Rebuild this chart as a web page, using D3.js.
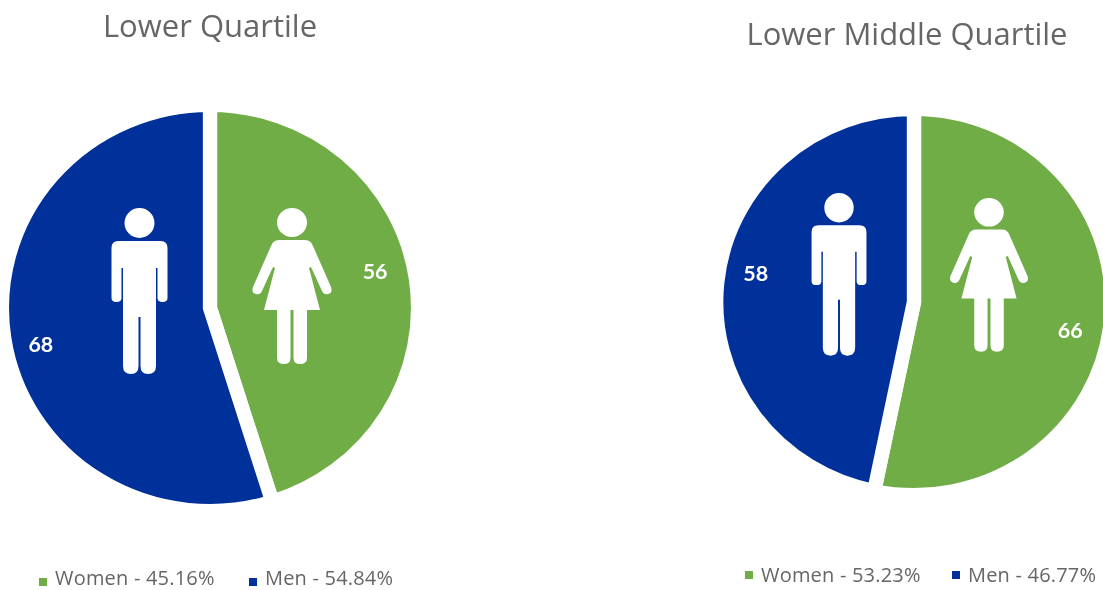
<!DOCTYPE html>
<html>
<head>
<meta charset="utf-8">
<script src="https://cdn.jsdelivr.net/npm/d3@7"></script>
<style>
  html, body { margin: 0; padding: 0; background: #fff; overflow: hidden; }
  svg { filter: blur(0.6px); }
  text { font-family: "Open Sans", Lato, sans-serif; }
  text.count { font-family: Lato, sans-serif; }
</style>
</head>
<body>
<svg id="chart" width="1103" height="590"></svg>
<script>
var categories = ["Women", "Men"];
var colors = ["#70ad47", "#00309a"];

var lowerTitle = "Lower Quartile";
var lowerCounts = [56, 68];
var lowerShares = ["45.16%", "54.84%"];

var middleTitle = "Lower Middle Quartile";
var middleCounts = [66, 58];
var middleShares = ["53.23%", "46.77%"];

// little pictures, drawn around x=0 with the top of the head at y=0
var manPath = "M-15,15a15,15 0 1,0 30,0a15,15 0 1,0 -30,0Z" +
    "M-21,33L21,33Q28,33 28,40L28,90Q28,94 23,94Q18,94 18,90L18,60L16.5,60L16.5,158Q16.5,166 8.5,166Q1,166 1,158L1,109L-1,109L-1,158Q-1,166 -8.5,166Q-16.5,166 -16.5,158L-16.5,60L-18,60L-18,90Q-18,94 -23,94Q-28,94 -28,90L-28,40Q-28,33 -21,33Z";

var womanPath = "M-15,14.5a15,14.5 0 1,0 30,0a15,14.5 0 1,0 -30,0Z" +
    "M-13,32L13,32Q19,32 21,38L39,79Q41,85 36,86Q32,87 30,83L19,59L17,60L28,102L15,102L15,150Q15,156 8,156Q1.5,156 1.5,150L1.5,102L-1.5,102L-1.5,150Q-1.5,156 -8,156Q-15,156 -15,150L-15,102L-28,102L-17,60L-19,59L-30,83Q-32,87 -36,86Q-41,85 -39,79L-21,38Q-19,32 -13,32Z";

var svg = d3.select("#chart");

// gap between the slices is a white stroke, so the radius is grown by half of it
var gap = 14;

function drawPie(o) {
    var pie = d3.pie().sort(null)(o.counts);
    var arc = d3.arc().innerRadius(0).outerRadius(o.r + gap / 2);
    var labelArc = d3.arc().innerRadius(o.labelR).outerRadius(o.labelR);

    svg.append("text")
        .attr("x", o.titleX)
        .attr("y", o.titleY)
        .attr("text-anchor", "middle")
        .attr("font-size", 31)
        .attr("fill", "#666")
        .text(o.title);

    var g = svg.append("g")
        .attr("transform", "translate(" + o.cx + "," + o.cy + ") scale(" + o.sx + "," + o.sy + ")");

    g.selectAll("path.slice")
        .data(pie)
        .enter()
        .append("path")
        .attr("class", "slice")
        .attr("d", arc)
        .attr("fill", function (d, i) { return colors[i]; })
        .attr("stroke", "#fff")
        .attr("stroke-width", gap)
        .attr("stroke-linejoin", "miter");

    g.selectAll("text")
        .data(pie)
        .enter()
        .append("text")
        .attr("class", "count")
        .attr("transform", function (d) {
            var shifted = {
                startAngle: d.startAngle + o.labelTurn * Math.PI / 180,
                endAngle: d.endAngle + o.labelTurn * Math.PI / 180
            };
            var p = labelArc.centroid(shifted);
            return "translate(" + (p[0] + o.labelDx) + "," + p[1] + ")";
        })
        .attr("dy", "0.35em")
        .attr("text-anchor", "middle")
        .attr("font-size", 21)
        .attr("font-weight", 700)
        .attr("fill", "#fff")
        .text(function (d) { return d.data; });

    svg.append("path")
        .attr("d", womanPath)
        .attr("fill", "#fff")
        .attr("transform", "translate(" + o.woman[0] + "," + o.woman[1] + ") scale(" + o.woman[2] + ")");
    svg.append("path")
        .attr("d", manPath)
        .attr("fill", "#fff")
        .attr("transform", "translate(" + o.man[0] + "," + o.man[1] + ") scale(" + o.man[2] + ")");

    // legend
    categories.forEach(function (c, i) {
        svg.append("rect")
            .attr("x", o.legendX[i])
            .attr("y", o.legendY - 4)
            .attr("width", 8)
            .attr("height", 8)
            .attr("fill", colors[i]);
        svg.append("text")
            .attr("x", o.legendX[i] + 16)
            .attr("y", o.legendBase)
            .attr("font-size", 20)
            .attr("letter-spacing", 0.2)
            .attr("fill", "#666")
            .text(c + " - " + o.shares[i]);
    });
}

drawPie({
    title: lowerTitle, counts: lowerCounts, shares: lowerShares,
    titleX: 210, titleY: 37,
    cx: 210, cy: 308, r: 197, sx: 1.02, sy: 0.995,
    labelR: 168, labelTurn: -4, labelDx: -2,
    woman: [292, 208, 1], man: [139.5, 208, 1],
    legendX: [39, 249], legendY: 582, legendBase: 584.5
});

drawPie({
    title: middleTitle, counts: middleCounts, shares: middleShares,
    titleX: 907, titleY: 45,
    cx: 914, cy: 302, r: 186, sx: 1.025, sy: 1,
    labelR: 156, labelTurn: 4.6, labelDx: -1,
    woman: [989, 198, 0.985], man: [839, 193, 0.98],
    legendX: [745, 952], legendY: 575, legendBase: 582
});
</script>
</body>
</html>
